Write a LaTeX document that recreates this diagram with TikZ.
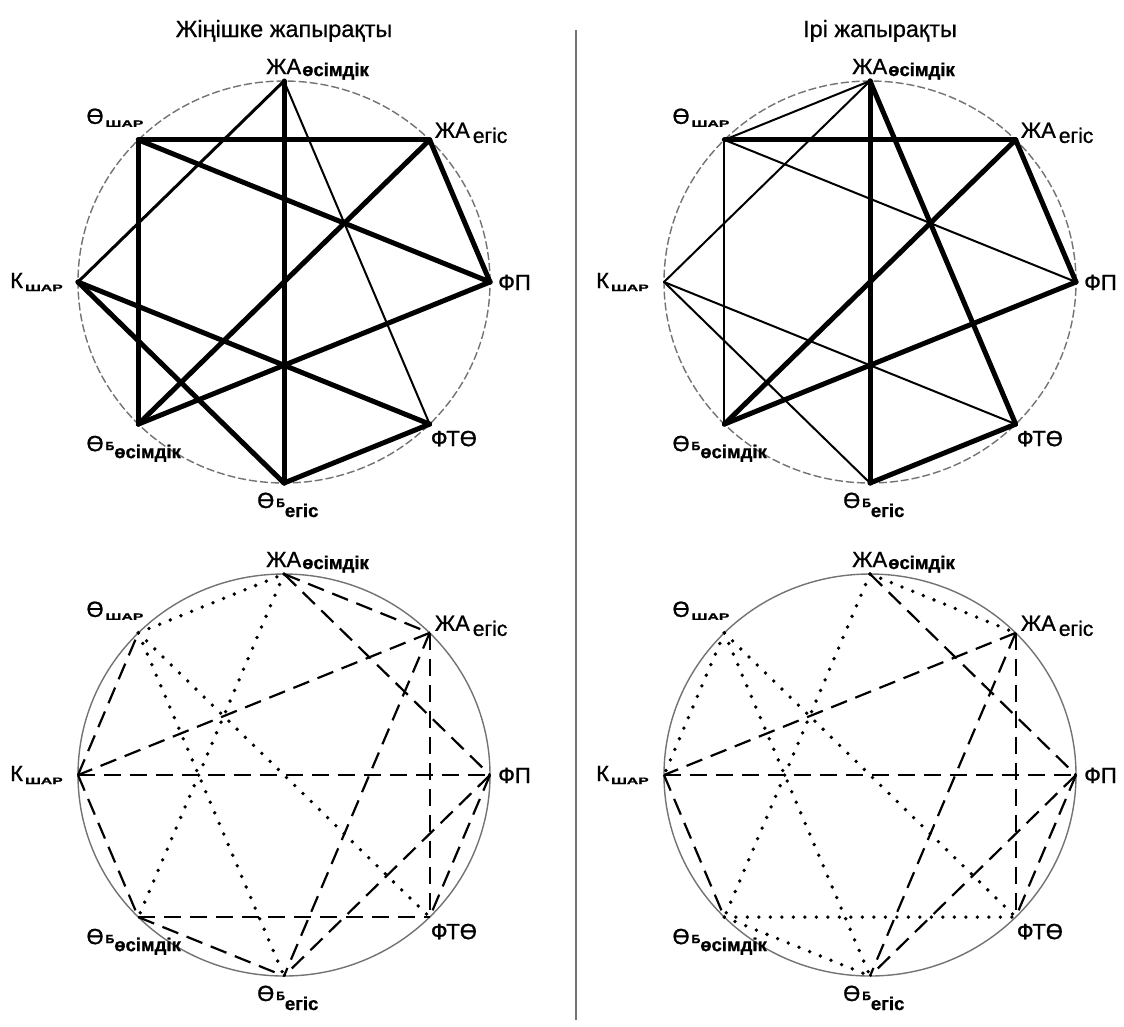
\documentclass[tikz,border=0pt]{standalone}
\usepackage{fontspec}
\setmainfont{Liberation Sans}
\usepackage{graphicx}
\usetikzlibrary{calc}
\newcommand\sbold[1]{{\bfseries\fontsize{18.5}{18.5}\selectfont #1}}
\newcommand\sreg[1]{{\fontsize{21}{21}\selectfont #1}}
\newcommand\shar{\scalebox{1.05}[0.62]{\bfseries\fontsize{15}{15}\selectfont ШАР}}
\newcommand\sbe{{\bfseries\fontsize{12}{12}\selectfont Б}}
\tikzset{
  circ/.style={draw=black!55, line width=1.4pt},
  circd/.style={circ, dash pattern=on 8pt off 3pt},
  thk/.style={line width=5pt, line cap=round, black},
  midl/.style={line width=3pt, line cap=round, black},
  thn/.style={line width=2pt, line cap=round, black},
  dsh/.style={line width=2.2pt, dash pattern=on 17pt off 9pt, black},
  dtt/.style={line width=3.8pt, line cap=round, dash pattern=on 0pt off 11.5pt, black},
  lab/.style={anchor=base west, inner sep=0pt, font=\fontsize{22}{22}\selectfont\addfontfeatures{FakeBold=1}},
  ttl/.style={anchor=base, inner sep=0pt, font=\fontsize{23.5}{23.5}\selectfont\addfontfeatures{FakeBold=0.6}},
}
\newcommand\mkpleiad[4]{% prefix, cx, cy, circle style
  \foreach \n/\ang in {A/90,B/45,C/0,D/-45,E/-90,F/-135,G/180,H/135}{
    \coordinate (#1\n) at ({#2+206*cos(\ang)},{#3-201*sin(\ang)});
  }
  \draw[#4] (#2,#3) ellipse [x radius=206pt, y radius=201pt];
}
\newcommand\mklabels[1]{%
  \node[lab] (#1lA) at ($(#1A)+(-18,-7)$) {ЖА\kern1pt\raisebox{-2pt}{\sbold{өсімдік}}};
  \node[lab] (#1lB) at ($(#1B)+(5,-2)$) {ЖА\kern3pt\raisebox{-5pt}{\sreg{егіс}}};
  \node[lab] (#1lC) at ($(#1C)+(8,8)$) {ФП};
  \node[lab] (#1lD) at ($(#1D)+(1,22)$) {ФТӨ};
  \node[lab] (#1lE) at ($(#1E)+(-27,25)$) {Ө\kern2pt\raisebox{1pt}{\sbe}\raisebox{-9pt}{\sbold{егіс}}};
  \node[lab] (#1lF) at ($(#1F)+(-52,27)$) {Ө\kern2pt\raisebox{1pt}{\sbe}\raisebox{-7pt}{\sbold{өсімдік}}};
  \node[lab] (#1lG) at ($(#1G)+(-68,6)$) {К\kern2pt\raisebox{-3pt}{\shar}};
  \node[lab] (#1lH) at ($(#1H)+(-52,-16)$) {Ө\kern2pt\raisebox{-3pt}{\shar}};
}
\newcommand\edges[3]{\foreach \u/\v in {#3}{\draw[#2] (#1\u) -- (#1\v);}}
\begin{document}
\begin{tikzpicture}[x=1pt,y=-1pt]
\useasboundingbox (0,0) rectangle (1124,1026);
\fill[white] (0,0) rectangle (1124,1026);
% separator
\coordinate (sepT) at (576,30);
\coordinate (sepB) at (576,1020);
\draw[black!55, line width=2.2pt] (sepT) -- (sepB);
% titles
\node[ttl] (t1) at (284,37) {Жіңішке жапырақты};
\node[ttl] (t2) at (880,37) {Ірі жапырақты};
% top left
\mkpleiad{tl}{284}{282}{circd}
\edges{tl}{thk}{A/E,H/B,H/C,H/F,B/C,B/F,G/D,G/E,F/C,E/D}
\edges{tl}{midl}{A/G}
\edges{tl}{thn}{A/D}
\mklabels{tl}
% top right
\mkpleiad{tr}{870}{282}{circd}
\edges{tr}{thk}{A/E,A/D,H/B,B/C,B/F,F/C,E/D}
\edges{tr}{thn}{A/H,A/G,H/C,H/F,G/D,G/E}
\mklabels{tr}
% bottom left
\mkpleiad{bl}{284}{775}{circ}
\edges{bl}{dtt}{H/A,A/F,H/E,H/D}
\edges{bl}{dsh}{A/B,A/C,B/G,B/E,B/D,G/C,G/H,G/F,F/D,F/E,C/E,C/D}
\mklabels{bl}
% bottom right
\mkpleiad{br}{870}{775}{circ}
\edges{br}{dtt}{A/B,A/F,H/G,H/E,H/D,F/D,F/E}
\edges{br}{dsh}{A/C,B/G,B/D,B/E,G/C,G/F,C/E,C/D}
\mklabels{br}
\end{tikzpicture}
\end{document}
